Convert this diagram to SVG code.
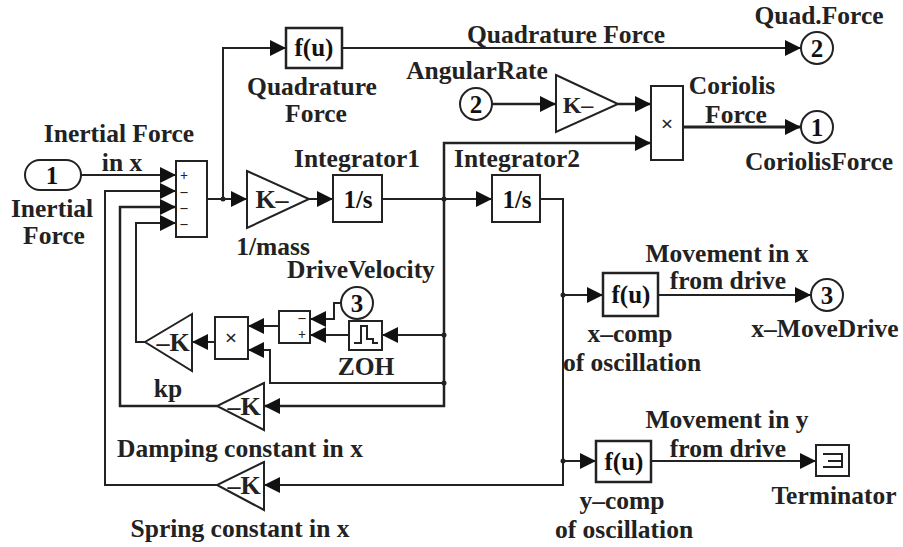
<svg xmlns="http://www.w3.org/2000/svg" width="903" height="547" viewBox="0 0 903 547">
<style>
text{font-family:"Liberation Serif","Times New Roman",serif;font-weight:bold;fill:#222;text-anchor:middle}
.l{font-size:25.5px}
.b{font-size:26px}
.n{font-size:25px;fill:#111}
.s{font-size:14px}
.box,.tri,.port{fill:#fff;stroke:#222;stroke-width:2}
.thick{stroke-width:2.5}
#connectors path{fill:none;stroke:#222;stroke-width:2}
#connectors path.a{marker-end:url(#arrow)}
#connectors circle{fill:#222}
.glyph{fill:none;stroke:#222;stroke-width:2}
</style>
<defs>
<marker id="arrow" markerUnits="userSpaceOnUse" markerWidth="17" markerHeight="16" refX="16" refY="8" orient="auto"><path d="M0 0L16 8L0 16Z" fill="#111"/></marker>
</defs>
<rect width="903" height="547" fill="#fff"/>
<g id="connectors">
<path class="a" d="M81 175H176"/>
<path class="a" d="M217 485H105V191H176"/>
<path class="a" d="M217 406H120V207H176" style="stroke-width:2.5"/>
<path class="a" d="M145 342H136V223H176"/>
<path class="a" d="M207 199H247"/>
<path class="a" d="M223 199V48H286"/>
<path class="a" d="M309 199H333"/>
<path class="a" d="M382 199H492"/>
<path class="a" d="M342 48H801"/>
<path class="a" d="M492 104H556" style="stroke-width:2.5"/>
<path class="a" d="M618 104H651" style="stroke-width:2.5"/>
<path class="a" d="M444 199V143H651" style="stroke-width:2.5"/>
<path class="a" d="M683 127H801" style="stroke-width:3"/>
<path class="a" d="M444 199V406H264" style="stroke-width:2.5"/>
<path class="a" d="M444 335H382"/>
<path class="a" d="M444 383H270V350H248"/>
<path class="a" d="M349 335H310"/>
<path class="a" d="M341 303H334V319H310"/>
<path class="a" d="M279 326H248"/>
<path class="a" d="M215 342H192"/>
<path class="a" d="M540 199H563V485H264"/>
<path class="a" d="M563 295H603"/>
<path class="a" d="M563 461H596"/>
<path class="a" d="M658 295H811"/>
<path class="a" d="M651 461H816"/>
<circle cx="223" cy="199" r="2.5"/><circle cx="444" cy="199" r="2.5"/><circle cx="444" cy="335" r="2.5"/><circle cx="444" cy="383" r="2.5"/><circle cx="563" cy="295" r="2.5"/><circle cx="563" cy="461" r="2.5"/>
</g>
<g id="in1"><rect class="port" x="25" y="160" width="56" height="30" rx="15"/><text class="n" x="52" y="184">1</text></g>
<g id="in2"><circle class="port" cx="476" cy="104" r="16"/><text class="n" x="476" y="113">2</text></g>
<g id="in3"><circle class="port" cx="357" cy="303" r="16"/><text class="n" x="357" y="312">3</text></g>
<g id="out2"><circle class="port" cx="817" cy="48" r="16"/><text class="n" x="817" y="57">2</text></g>
<g id="out1"><circle class="port" cx="817" cy="127" r="16"/><text class="n" x="817" y="136">1</text></g>
<g id="out3"><circle class="port" cx="827" cy="295" r="16"/><text class="n" x="827" y="304">3</text></g>
<g id="sum1"><rect class="box" x="176" y="161" width="31" height="76"/><text class="s" x="184" y="180">+</text><text class="s" x="184" y="196">–</text><text class="s" x="184" y="212">–</text><text class="s" x="184" y="228">–</text></g>
<g id="mass"><polygon class="tri" points="247,171 309,199 247,228"/><text class="b" x="272" y="208">K–</text></g>
<g id="int1"><rect class="box" x="333" y="175" width="49" height="47"/><text class="n" x="358" y="208">1/s</text></g>
<g id="int2"><rect class="box" x="492" y="175" width="48" height="47"/><text class="n" x="517" y="208">1/s</text></g>
<g id="fquad"><rect class="box thick" x="286" y="28" width="56" height="40"/><text class="n" x="314" y="56">f(u)</text></g>
<g id="kang"><polygon class="tri" points="556,75 618,104 556,132"/><text class="b" style="font-size:24px" x="578" y="113">K–</text></g>
<g id="prod1"><rect class="box" x="651" y="86" width="32" height="74"/><text class="s" style="font-size:22px" x="667" y="131">×</text></g>
<g id="sum2"><rect class="box" x="279" y="311" width="31" height="32"/><text class="s" x="302" y="322">–</text><text class="s" x="302" y="339">+</text></g>
<g id="zoh"><rect class="box" x="349" y="321" width="33" height="29"/><path class="glyph" d="M354 343H361V326H367V339H373V343H378"/></g>
<g id="prod2"><rect class="box" x="215" y="317" width="33" height="42"/><text class="s" style="font-size:22px" x="231" y="345">×</text></g>
<g id="kp"><polygon class="tri" points="192,314 145,342 192,371"/><text class="b" x="173" y="351">–K</text></g>
<g id="damp"><polygon class="tri" points="264,383 217,406 264,430"/><text class="b" x="244" y="415">–K</text></g>
<g id="spring"><polygon class="tri" points="264,462 217,485 264,510"/><text class="b" x="244" y="494">–K</text></g>
<g id="fx"><rect class="box thick" x="603" y="273" width="55" height="43"/><text class="n" x="631" y="303">f(u)</text></g>
<g id="fy"><rect class="box thick" x="596" y="441" width="55" height="41"/><text class="n" x="624" y="470">f(u)</text></g>
<g id="term"><rect class="box" x="816" y="445" width="33" height="31"/><path class="glyph" d="M823 454H842V467H823M828 461H842"/></g>
<g id="labels">
<text class="l" x="119" y="142">Inertial Force</text>
<text class="l" x="122" y="171">in x</text>
<text class="l" x="52" y="217">Inertial</text>
<text class="l" x="54" y="244">Force</text>
<text class="l" x="273" y="255">1/mass</text>
<text class="l" x="361" y="278">DriveVelocity</text>
<text class="l" x="357" y="167">Integrator1</text>
<text class="l" x="312" y="95">Quadrature</text>
<text class="l" x="316" y="122">Force</text>
<text class="l" x="366" y="375">ZOH</text>
<text class="l" x="168" y="397">kp</text>
<text class="l" x="240" y="457">Damping constant in x</text>
<text class="l" x="240" y="537">Spring constant in x</text>
<text class="l" x="819" y="24">Quad.Force</text>
<text class="l" x="566" y="43">Quadrature Force</text>
<text class="l" x="477" y="79">AngularRate</text>
<text class="l" x="732" y="94">Coriolis</text>
<text class="l" x="736" y="123">Force</text>
<text class="l" x="819" y="170">CoriolisForce</text>
<text class="l" x="517" y="167">Integrator2</text>
<text class="l" x="727" y="262">Movement in x</text>
<text class="l" x="728" y="289">from drive</text>
<text class="l" x="825" y="337">x–MoveDrive</text>
<text class="l" x="630" y="342">x–comp</text>
<text class="l" x="632" y="371">of oscillation</text>
<text class="l" x="727" y="428">Movement in y</text>
<text class="l" x="728" y="457">from drive</text>
<text class="l" x="834" y="504">Terminator</text>
<text class="l" x="622" y="509">y–comp</text>
<text class="l" x="624" y="538">of oscillation</text>
</g>
</svg>
